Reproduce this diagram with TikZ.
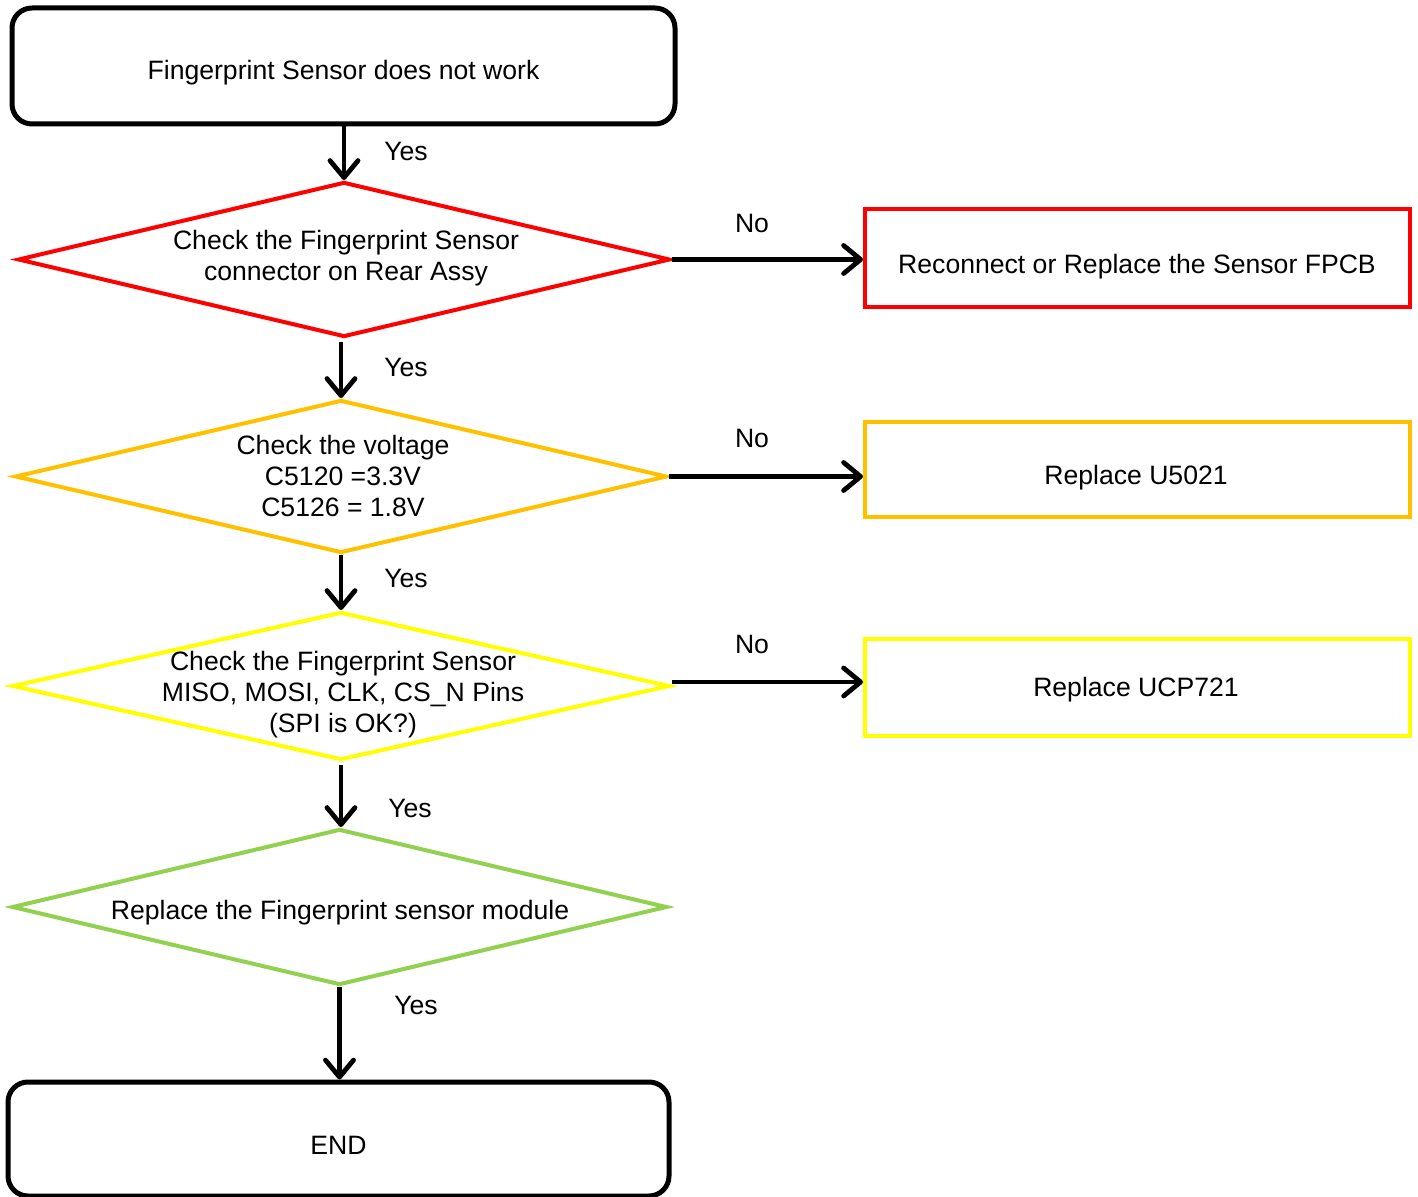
\documentclass[tikz,border=0pt]{standalone}
\usepackage{fontspec}
\setmainfont{Liberation Sans}
\usetikzlibrary{shapes.geometric,arrows.meta}
\definecolor{cRed}{HTML}{FF0000}
\definecolor{cOrange}{HTML}{FFC000}
\definecolor{cYellow}{HTML}{FFFF00}
\definecolor{cGreen}{HTML}{92D050}
\tikzset{
  txt/.style={font=\fontsize{13.3}{15.5}\selectfont, align=center, inner sep=0pt},
  termbox/.style={draw=black, line width=2.5pt, rounded corners=10pt, inner sep=0pt},
  dia/.style={diamond, line width=2pt, inner sep=0pt, miter limit=20},
  actbox/.style={rectangle, line width=2pt, inner sep=0pt},
  conn/.style={line width=2.4pt, -{Straight Barb[length=8.5pt,width=14pt,round]}},
}
\begin{document}
\begin{tikzpicture}[x=0.5pt,y=-0.5pt]
\useasboundingbox (0,0) rectangle (1418,1197);
% start
\node[termbox, minimum width=331.5pt, minimum height=58pt] (start) at (343.5,66) {};
\node[txt] (starttxt) at (343.5,73) {Fingerprint Sensor does not work};
% diamonds
\node[dia, draw=cRed, minimum width=326pt, minimum height=77.5pt] (d1) at (344,259.5) {};
\node[txt] (d1t) at (346,258) {Check the Fingerprint Sensor\\connector on Rear Assy};
\node[dia, draw=cOrange, minimum width=326pt, minimum height=76.5pt] (d2) at (341,476.5) {};
\node[txt] (d2t) at (343,476) {Check the voltage\\C5120 =3.3V\\C5126 = 1.8V};
\node[dia, draw=cYellow, minimum width=329pt, minimum height=74pt] (d3) at (341,686) {};
\node[txt] (d3t) at (343,695) {Check the Fingerprint Sensor\\MISO, MOSI, CLK, CS\_N Pins\\(SPI is OK?)};
\node[dia, draw=cGreen, minimum width=327.5pt, minimum height=78pt] (d4) at (339.5,907) {};
\node[txt] (d4t) at (340,913) {Replace the Fingerprint sensor module};
% end
\node[termbox, minimum width=330.5pt, minimum height=57pt] (endb) at (338.5,1139) {};
\node[txt] (endt) at (338.5,1145) {END};
% action boxes
\node[actbox, draw=cRed, minimum width=272.5pt, minimum height=49pt] (r1) at (1137.5,258) {};
\node[txt] (r1t) at (1137,267) {Reconnect or Replace the Sensor FPCB};
\node[actbox, draw=cOrange, minimum width=272.5pt, minimum height=47.5pt] (r2) at (1137.5,469.5) {};
\node[txt] (r2t) at (1136,478) {Replace U5021};
\node[actbox, draw=cYellow, minimum width=272.5pt, minimum height=48.5pt] (r3) at (1137.5,687.5) {};
\node[txt] (r3t) at (1136,690) {Replace UCP721};
% vertical connectors
\draw[conn] (start.south -| d1.north) -- (d1.north);
\draw[conn] ([yshift=-1.5pt]d1.south -| d2.north) -- (d2.north);
\draw[conn] (d2.south) -- (d2.south |- d3.north);
\draw[conn] ([yshift=-1.5pt]d3.south) -- (d3.south |- d4.north);
\draw[conn] (d4.south) -- (d4.south |- endb.north);
% horizontal connectors
\draw[conn] (d1.east) -- (d1.east -| r1.west);
\draw[conn] (d2.east) -- (d2.east -| r2.west);
\draw[conn] ([yshift=2pt]d3.east) -- ([yshift=2pt]d3.east -| r3.west);
% labels
\node[txt] (y1) at (406,151) {Yes};
\node[txt] (y2) at (406,367) {Yes};
\node[txt] (y3) at (406,578) {Yes};
\node[txt] (y4) at (410,808) {Yes};
\node[txt] (y5) at (416,1005) {Yes};
\node[txt] (n1) at (752,223) {No};
\node[txt] (n2) at (752,438) {No};
\node[txt] (n3) at (752,644) {No};
\end{tikzpicture}
\end{document}
